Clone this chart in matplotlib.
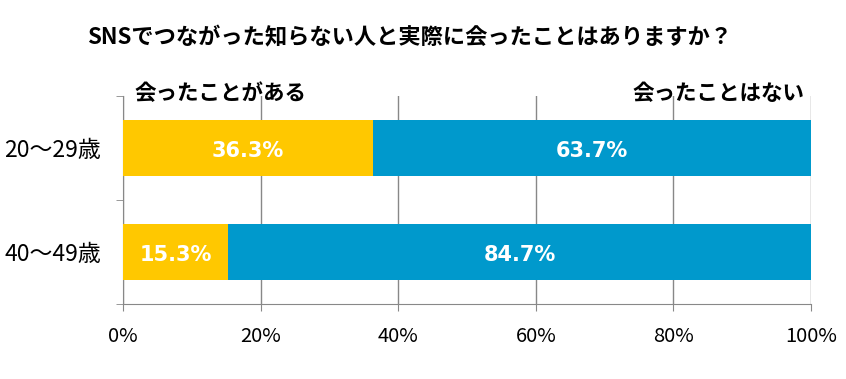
import matplotlib
matplotlib.use("Agg")
import matplotlib.pyplot as plt
import numpy as np

plt.rcParams['font.family'] = ['Noto Sans CJK JP', 'DejaVu Sans']

title = "SNSでつながった知らない人と実際に会ったことはありますか？"
groups = ["20～29歳", "40～49歳"]
series = ["会ったことがある", "会ったことはない"]
met = [36.3, 15.3]
not_met = [63.7, 84.7]
colors = ["#FFC800", "#0099CC"]

fig = plt.figure(figsize=(8.46, 3.79), dpi=100)
ax = fig.add_axes([123 / 846, 1 - 304 / 379, (811 - 123) / 846, (304 - 96) / 379])

y = np.arange(len(groups))
h = 0.53
ax.barh(y, met, h, color=colors[0], zorder=3)
ax.barh(y, not_met, h, left=met, color=colors[1], zorder=3)

for i in range(len(groups)):
    ax.text(met[i] / 2, y[i] + 0.03, f"{met[i]:.1f}%", ha='center', va='center',
            color='white', fontsize=15, fontweight='bold', family='DejaVu Sans', zorder=4)
    ax.text(met[i] + not_met[i] / 2, y[i] + 0.03, f"{not_met[i]:.1f}%", ha='center', va='center',
            color='white', fontsize=15, fontweight='bold', family='DejaVu Sans', zorder=4)

ax.set_xlim(0, 100)
ax.set_ylim(1.5, -0.5)
ax.set_xticks(np.arange(0, 101, 20))
ax.set_xticklabels([f"{v}%" for v in range(0, 101, 20)], fontsize=14.5)
ax.set_yticks(y)
ax.set_yticklabels(groups, fontsize=16.5)
ax.tick_params(axis='y', length=0, pad=16)
ax.set_yticks([-0.5, 0.5, 1.5], minor=True)
ax.tick_params(axis='y', which='minor', length=5, color='#888888')
ax.tick_params(axis='x', length=5, color='#888888', pad=11)
ax.grid(axis='x', color='#888888', linewidth=1, zorder=0)

for s in ['top', 'right']:
    ax.spines[s].set_visible(False)
for s in ['left', 'bottom']:
    ax.spines[s].set_color('#888888')

ax.text(0.017, 1.01, series[0], transform=ax.transAxes, ha='left', va='center',
        fontsize=15.5, fontweight='bold')
ax.text(0.99, 1.01, series[1], transform=ax.transAxes, ha='right', va='center',
        fontsize=15.5, fontweight='bold')

fig.text(410 / 846, 1 - 38 / 379, title, ha='center', va='center',
         fontsize=16, fontweight='bold')

fig.savefig("out.png", dpi=100)
